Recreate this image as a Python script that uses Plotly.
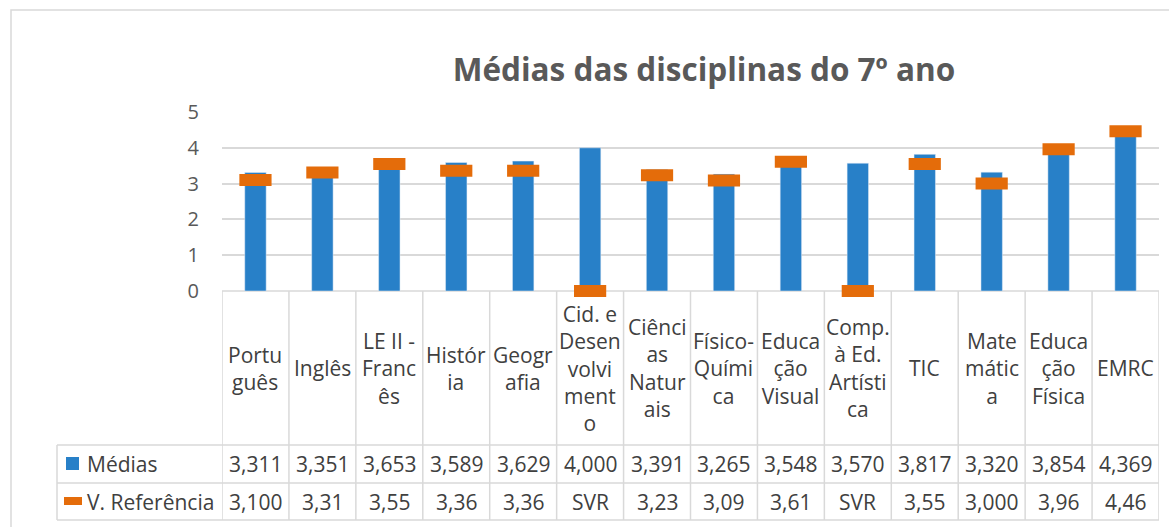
import plotly.graph_objects as go

# ---------------- data ----------------
categories = ["Português", "Inglês", "LE II - Francês", "História", "Geografia",
              "Cid. e Desenvolvimento", "Ciências Naturais", "Físico-Química",
              "Educação Visual", "Comp. à Ed. Artística", "TIC", "Matemática",
              "Educação Física", "EMRC"]
category_wrapped = ["Portu<br>guês", "Inglês", "LE II -<br>Franc<br>ês", "Histór<br>ia",
                    "Geogr<br>afia", "Cid. e<br>Desen<br>volvi<br>ment<br>o",
                    "Ciênci<br>as<br>Natur<br>ais", "Físico-<br>Quími<br>ca",
                    "Educa<br>ção<br>Visual", "Comp.<br>à Ed.<br>Artísti<br>ca", "TIC",
                    "Mate<br>mátic<br>a", "Educa<br>ção<br>Física", "EMRC"]
medias = [3.311, 3.351, 3.653, 3.589, 3.629, 4.000, 3.391, 3.265, 3.548, 3.570,
          3.817, 3.320, 3.854, 4.369]
referencia_txt = ["3,100", "3,31", "3,55", "3,36", "3,36", "SVR", "3,23", "3,09",
                  "3,61", "SVR", "3,55", "3,000", "3,96", "4,46"]
y_ticks = [0, 1, 2, 3, 4, 5]

series_names = ["Médias", "V. Referência"]
title_text = "Médias das disciplinas do 7º ano"

# text values ("SVR") are plotted as 0, like the spreadsheet does
referencia = [float(s.replace(",", ".")) if s != "SVR" else 0.0 for s in referencia_txt]
medias_txt = [f"{v:.3f}".replace(".", ",") for v in medias]

# ---------------- layout geometry ----------------
W, H = 1169, 527
PL, PR, PT, PB = 222, 1159, 112, 291  # plot area in pixels

BLUE = "#2880c8"
ORANGE = "#e46c0a"
GRID = "#d9d9d9"
TXT = "#404040"
AX = "#595959"
FONT = "Open Sans"
TFS = 21


def px(xp):
    return (xp - PL) / (PR - PL)


def py(yp):
    return (PB - yp) / (PB - PT)


fig = go.Figure()
fig.add_trace(go.Bar(x=categories, y=medias, name=series_names[0],
                     marker=dict(color=BLUE), width=0.32, showlegend=False))
fig.add_trace(go.Scatter(x=categories, y=referencia, name=series_names[1], mode="markers",
                         marker=dict(symbol="line-ew", size=23,
                                     line=dict(color=ORANGE, width=12)),
                         cliponaxis=False, showlegend=False))

shapes = []
line = dict(color=GRID, width=1.5)
# outer chart border
shapes.append(dict(type="rect", xref="paper", yref="paper", x0=px(11), x1=px(1180),
                   y0=py(10), y1=py(545), line=line, layer="below"))
# table horizontal lines
shapes.append(dict(type="line", xref="paper", yref="paper", x0=0, x1=1, y0=0, y1=0,
                   line=line, layer="below"))
for yy in (445, 483, 520):
    shapes.append(dict(type="line", xref="paper", yref="paper", x0=px(57), x1=1,
                       y0=py(yy), y1=py(yy), line=line, layer="below"))
# table vertical lines
n = len(categories)
for k in range(n + 1):
    shapes.append(dict(type="line", xref="x", yref="paper", x0=k - 0.5, x1=k - 0.5,
                       y0=0, y1=py(520), line=line, layer="below"))
shapes.append(dict(type="line", xref="paper", yref="paper", x0=px(57), x1=px(57),
                   y0=py(445), y1=py(520), line=line, layer="below"))
# legend keys
shapes.append(dict(type="rect", xref="paper", yref="paper", x0=px(66), x1=px(79),
                   y0=py(457), y1=py(470), fillcolor=BLUE, line=dict(width=0)))
shapes.append(dict(type="line", xref="paper", yref="paper", x0=px(64), x1=px(82),
                   y0=py(501), y1=py(501), line=dict(color=ORANGE, width=8)))

annotations = []
for i, c in enumerate(categories):
    annotations.append(dict(x=c, xref="x", y=py(368), yref="paper", text=category_wrapped[i],
                            showarrow=False, xanchor="center", yanchor="middle",
                            font=dict(size=TFS, color=TXT, family=FONT)))
    annotations.append(dict(x=c, xref="x", y=py(464), yref="paper", text=medias_txt[i],
                            showarrow=False, xanchor="center", yanchor="middle",
                            font=dict(size=TFS, color=TXT, family=FONT)))
    annotations.append(dict(x=c, xref="x", y=py(502), yref="paper", text=referencia_txt[i],
                            showarrow=False, xanchor="center", yanchor="middle",
                            font=dict(size=TFS, color=TXT, family=FONT)))
for name, yy in zip(series_names, (464, 502)):
    annotations.append(dict(x=px(85), xref="paper", y=py(yy), yref="paper", text=name,
                            showarrow=False, xanchor="left", yanchor="middle",
                            font=dict(size=TFS, color=TXT, family=FONT)))

fig.update_layout(
    width=W, height=H,
    margin=dict(l=PL, r=W - PR, t=PT, b=H - PB, pad=0),
    paper_bgcolor="white", plot_bgcolor="white",
    title=dict(text=f"<b>{title_text}</b>", x=px(704), xanchor="center", xref="paper",
               y=1 - 70 / H, yanchor="middle", yref="container",
               font=dict(size=31.5, color=AX, family=FONT)),
    xaxis=dict(range=[-0.5, n - 0.5], showticklabels=False, showgrid=False,
               zeroline=False, showline=False, fixedrange=True),
    yaxis=dict(range=[0, 5], tickvals=y_ticks, showgrid=True, gridcolor=GRID, gridwidth=1.5,
               zeroline=False, showline=False, ticks="", ticklabelstandoff=22,
               tickfont=dict(size=20, color=AX, family=FONT)),
    shapes=shapes, annotations=annotations,
    separators=",.",
    showlegend=False,
)

fig.write_html("out.html", config={"displayModeBar": False},
               post_script="document.body.style.margin='0';document.body.style.overflow='hidden';")
